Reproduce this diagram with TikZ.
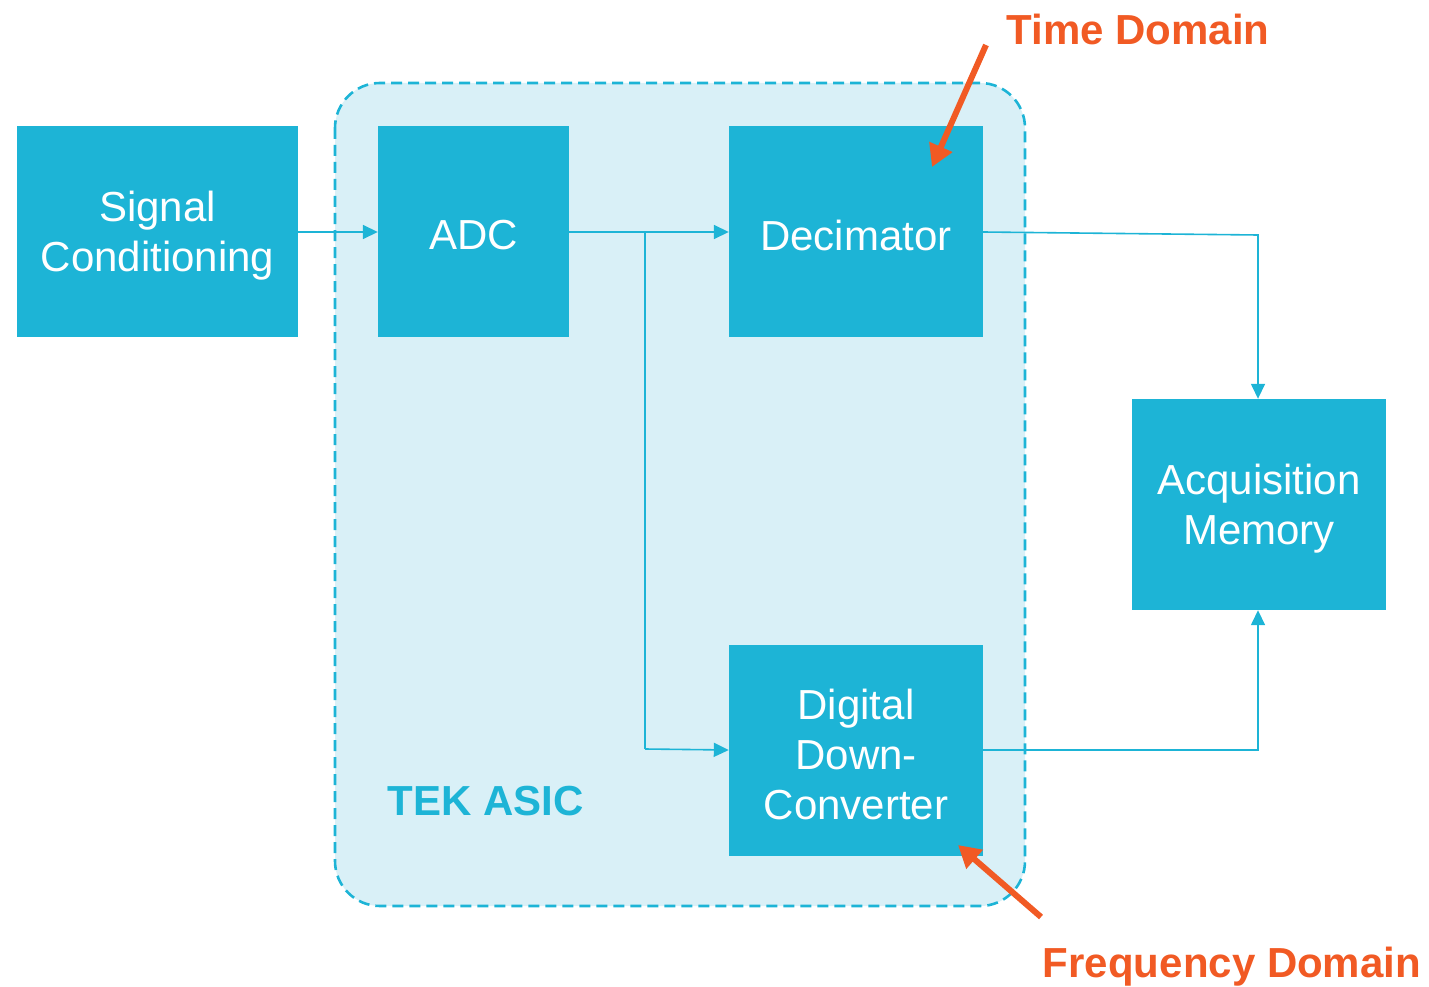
\documentclass[tikz,border=0pt]{standalone}
\usepackage{fontspec}
\setmainfont{Liberation Sans}
\usetikzlibrary{arrows.meta}
\definecolor{tekblue}{HTML}{1DB4D6}
\definecolor{asicfill}{HTML}{D9F0F7}
\definecolor{tekorange}{HTML}{F15A24}
\tikzset{
  block/.style={fill=tekblue, draw=none, inner sep=0pt, minimum height=211pt},
  blocktext/.style={text=white, align=center, inner sep=0pt, yshift=-4pt,
    font=\fontsize{42}{50}\selectfont},
  wire/.style={draw=tekblue, line width=1.6pt, -{Triangle[length=15pt,width=14pt]}},
  plain/.style={draw=tekblue, line width=1.6pt},
  callout/.style={draw=tekorange, line width=6pt, -{Triangle[length=22pt,width=24pt]}},
  calloutlabel/.style={text=tekorange, font=\fontsize{42}{50}\selectfont\bfseries, inner sep=0pt},
}
\begin{document}
\begin{tikzpicture}[x=1pt,y=-1pt]
  \useasboundingbox (0,0) rectangle (1429,987);
  % ASIC outline
  \draw[fill=asicfill, draw=tekblue, line width=2.6pt, dash pattern=on 11pt off 6pt, rounded corners=45pt]
    (335,83) rectangle (1025,906);
  \node[text=tekblue, font=\fontsize{42}{50}\selectfont\bfseries, inner sep=0pt] (asic) at (486,801) {TEK ASIC};

  % blocks
  \node[block, minimum width=281pt, label={[blocktext]center:Signal\\Conditioning}] (sig) at (157.5,231.5) {};
  \node[block, minimum width=191pt, label={[blocktext]center:ADC}] (adc) at (473.5,231.5) {};
  \node[block, minimum width=254pt, label={[blocktext]center:Decimator}] (dec) at (856,231.5) {};
  \node[block, minimum width=254pt, label={[blocktext]center:Digital\\Down-\\Converter}] (ddc) at (856,750.5) {};
  \node[block, minimum width=254pt, label={[blocktext]center:Acquisition\\Memory}] (mem) at (1259,504.5) {};

  % signal path
  \coordinate (split) at (645,232);
  \coordinate (bend) at (645,749);
  \coordinate (decout) at (1258,235);
  \coordinate (ddcout) at (1258,750);
  \draw[wire] (sig.east |- 0,232) -- (adc.west |- 0,232);
  \draw[wire] (adc.east |- 0,232) -- (dec.west |- 0,232);
  \draw[plain] (split) -- (bend);
  \draw[wire] (bend) -- (ddc.west |- 0,750);
  \draw[wire] (dec.east |- 0,232) -- (decout) -- (mem.north -| decout);
  \draw[wire] (ddc.east |- 0,750) -- (ddcout) -- (mem.south -| ddcout);

  % domain callouts
  \node[calloutlabel] (time) at (1138,29) {Time Domain};
  \node[calloutlabel] (freq) at (1232,967) {Frequency Domain};
  \coordinate (timetail) at (986,45);
  \coordinate (timetip) at (932,167);
  \coordinate (freqtail) at (1041,917);
  \coordinate (freqtip) at (958,845);
  \draw[callout] (timetail) -- (timetip);
  \draw[callout] (freqtail) -- (freqtip);
\end{tikzpicture}
\end{document}
